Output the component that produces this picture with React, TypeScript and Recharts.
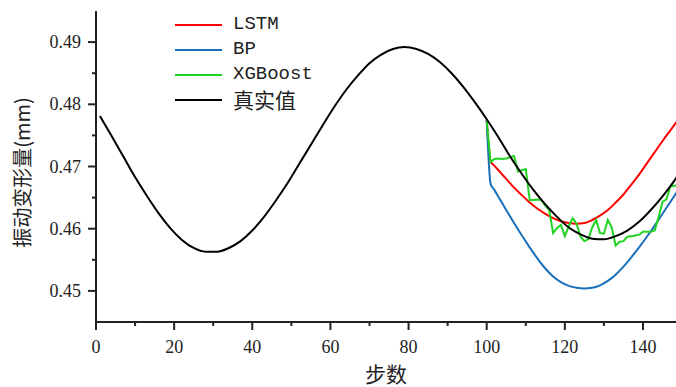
import React from 'react';
import { LineChart, Line, XAxis, YAxis, Legend } from 'recharts';

// ---- data ----
const trueSteps = [1, 4, 7, 10, 13, 16, 19, 22, 25, 28, 31, 34, 37, 40, 43, 46, 49, 52, 55, 58, 61, 64, 67, 70, 73, 76, 79, 82, 85, 88, 91, 94, 97, 100, 103, 106, 109, 112, 115, 118, 121, 124, 127, 130, 133, 136, 139, 142, 145, 148, 151];
const trueValues = [0.4781, 0.4749, 0.4716, 0.4683, 0.4653, 0.4625, 0.4601, 0.4582, 0.4569, 0.4563, 0.4563, 0.4569, 0.4580, 0.4597, 0.4619, 0.4645, 0.4673, 0.4704, 0.4735, 0.4766, 0.4796, 0.4823, 0.4846, 0.4866, 0.4880, 0.4889, 0.4892, 0.4889, 0.4881, 0.4868, 0.4850, 0.4828, 0.4803, 0.4776, 0.4747, 0.4716, 0.4688, 0.4662, 0.4639, 0.4619, 0.4602, 0.4591, 0.4584, 0.4583, 0.4588, 0.4597, 0.4611, 0.4630, 0.4652, 0.4677, 0.4705];

const modelSteps = [100, 101, 102, 103, 104, 105, 107, 109, 111, 113, 115, 117, 119, 121, 123, 125, 127, 129, 131, 133, 135, 137, 139, 141, 143, 145, 147, 149];
const lstmValues = [0.4775, 0.4708, 0.4701, 0.4694, 0.4687, 0.4680, 0.4666, 0.4654, 0.4642, 0.4632, 0.4624, 0.4617, 0.4612, 0.4609, 0.4608, 0.4609, 0.4614, 0.4621, 0.4630, 0.4642, 0.4655, 0.4671, 0.4687, 0.4705, 0.4723, 0.4741, 0.4758, 0.4775];
const bpValues = [0.4775, 0.4672, 0.4662, 0.4651, 0.4641, 0.4630, 0.4609, 0.4589, 0.4570, 0.4552, 0.4536, 0.4523, 0.4514, 0.4508, 0.4505, 0.4504, 0.4505, 0.4509, 0.4516, 0.4526, 0.4539, 0.4554, 0.4570, 0.4587, 0.4605, 0.4624, 0.4643, 0.4662];

const xgbSteps = [100, 101, 102, 103, 104, 105, 106, 107, 108, 109, 110, 111, 112, 113, 114, 115, 116, 117, 118, 119, 120, 121, 122, 123, 124, 125, 126, 127, 128, 129, 130, 131, 132, 133, 134, 135, 136, 137, 138, 139, 140, 141, 142, 143, 144, 145, 146, 147, 148, 149];
const xgbValues = [0.4774, 0.4707, 0.4712, 0.4713, 0.4712, 0.4713, 0.4715, 0.4717, 0.4692, 0.4694, 0.4696, 0.4646, 0.4646, 0.4647, 0.4646, 0.4637, 0.4630, 0.4593, 0.4601, 0.4606, 0.4588, 0.4604, 0.4617, 0.4608, 0.4587, 0.4580, 0.4583, 0.4602, 0.4614, 0.4593, 0.4592, 0.4614, 0.4602, 0.4573, 0.4579, 0.4580, 0.4587, 0.4588, 0.4589, 0.4590, 0.4595, 0.4595, 0.4595, 0.4597, 0.4619, 0.4643, 0.4647, 0.4668, 0.4669, 0.4670];

const xTicks = [0, 10, 20, 30, 40, 50, 60, 70, 80, 90, 100, 110, 120, 130, 140];
const yTicks = [0.45, 0.455, 0.46, 0.465, 0.47, 0.475, 0.48, 0.485, 0.49];

const seriesNames = ['LSTM', 'BP', 'XGBoost', '真实值'];
const seriesColors = ['#ff0000', '#1a6fba', '#22d422', '#000000'];

const trueData = trueSteps.map((s, i) => ({ s, v: trueValues[i] }));
const lstmData = modelSteps.map((s, i) => ({ s, v: lstmValues[i] }));
const bpData = modelSteps.map((s, i) => ({ s, v: bpValues[i] }));
const xgbData = xgbSteps.map((s, i) => ({ s, v: xgbValues[i] }));

const W = 676;
const H = 387;
const AXIS = '#222';
const TICK_FONT = '"Liberation Serif", serif';
const CJK_FONT = '"Noto Sans CJK SC", sans-serif';

const X_TICK_SIZE = 8;
const X_TICK_MARGIN = 2;
const Y_TICK_SIZE = 8;
const Y_TICK_MARGIN = 7;

const XTick = (props: any) => {
  const { x, y, payload } = props;
  const axisY = y - X_TICK_SIZE - X_TICK_MARGIN;
  const major = Math.round(payload.value) % 20 === 0;
  return (
    <g>
      <line x1={x} x2={x} y1={axisY} y2={axisY + (major ? 8 : 4)} stroke={AXIS} strokeWidth={2} />
      {major && (
        <text x={x} y={axisY + 25} textAnchor="middle" dominantBaseline="central" fontFamily={TICK_FONT} fontSize={18} fill={AXIS}>
          {payload.value}
        </text>
      )}
    </g>
  );
};

const YTick = (props: any) => {
  const { x, y, payload } = props;
  const axisX = x + Y_TICK_SIZE + Y_TICK_MARGIN;
  const major = Math.round(payload.value * 1000) % 10 === 0;
  return (
    <g>
      <line x1={axisX} x2={axisX - (major ? 8 : 4)} y1={y} y2={y} stroke={AXIS} strokeWidth={2} />
      {major && (
        <text x={axisX - 15} y={y} textAnchor="end" dominantBaseline="central" fontFamily={TICK_FONT} fontSize={18} fill={AXIS}>
          {payload.value.toFixed(2)}
        </text>
      )}
    </g>
  );
};

const XLabel = (props: any) => {
  const vb = props.viewBox || {};
  return (
    <text x={vb.x + vb.width / 2} y={vb.y + 51} textAnchor="middle" dominantBaseline="central" fontFamily={CJK_FONT} fontSize={21} fill={AXIS}>
      步数
    </text>
  );
};

const YLabel = (props: any) => {
  const vb = props.viewBox || {};
  const cx = vb.x + 21;
  const cy = vb.y + vb.height / 2 + 6;
  return (
    <text x={cx} y={cy} transform={`rotate(-90 ${cx} ${cy})`} textAnchor="middle" dominantBaseline="central" fontFamily={CJK_FONT} fontSize={20} fill={AXIS}>
      振动变形量(mm)
    </text>
  );
};

const LegendBox = () => (
  <div style={{ display: 'flex', flexDirection: 'column' }}>
    {seriesNames.map((name, i) => {
      const isCJK = /[\u4e00-\u9fff]/.test(name);
      return (
        <div key={name} style={{ display: 'flex', alignItems: 'center', height: 25 }}>
          <svg width={47} height={4} style={{ display: 'block' }}>
            <line x1={0} x2={47} y1={2} y2={2} stroke={seriesColors[i]} strokeWidth={2} />
          </svg>
          <span
            style={{
              marginLeft: 11,
              fontFamily: isCJK ? CJK_FONT : '"Liberation Mono", monospace',
              fontSize: isCJK ? 21 : 19,
              color: AXIS,
              lineHeight: '25px',
              whiteSpace: 'nowrap',
            }}
          >
            {name}
          </span>
        </div>
      );
    })}
  </div>
);

export default function App() {
  return (
    <div style={{ position: 'absolute', left: 0, top: 0, width: W, height: H, background: '#fff', overflow: 'hidden' }}>
      <LineChart width={W} height={H} margin={{ top: 11, right: 0, bottom: 0, left: 0 }}>
        <XAxis
          dataKey="s"
          type="number"
          domain={[0, 148.45]}
          allowDataOverflow
          ticks={xTicks}
          interval={0}
          height={65}
          axisLine={{ stroke: AXIS, strokeWidth: 2 }}
          tickLine={false}
          tickSize={X_TICK_SIZE}
          tickMargin={X_TICK_MARGIN}
          tick={(p: any) => <XTick {...p} />}
          label={{ content: (p: any) => <XLabel {...p} /> }}
        />
        <YAxis
          type="number"
          domain={[0.445, 0.495]}
          allowDataOverflow
          ticks={yTicks}
          interval={0}
          width={96}
          axisLine={{ stroke: AXIS, strokeWidth: 2 }}
          tickLine={false}
          tickSize={Y_TICK_SIZE}
          tickMargin={Y_TICK_MARGIN}
          tick={(p: any) => <YTick {...p} />}
          label={{ content: (p: any) => <YLabel {...p} /> }}
        />
        <Legend
          layout="vertical"
          align="center"
          verticalAlign="middle"
          content={() => <LegendBox />}
          wrapperStyle={{ position: 'absolute', left: 175, top: 12, width: 200, height: 100 }}
        />
        <Line data={lstmData} dataKey="v" name="LSTM" type="monotone" stroke={seriesColors[0]} strokeWidth={2} dot={false} isAnimationActive={false} />
        <Line data={bpData} dataKey="v" name="BP" type="monotone" stroke={seriesColors[1]} strokeWidth={2} dot={false} isAnimationActive={false} />
        <Line data={xgbData} dataKey="v" name="XGBoost" type="linear" stroke={seriesColors[2]} strokeWidth={2} dot={false} isAnimationActive={false} />
        <Line data={trueData} dataKey="v" name="真实值" type="monotone" stroke={seriesColors[3]} strokeWidth={2} dot={false} isAnimationActive={false} />
      </LineChart>
    </div>
  );
}
